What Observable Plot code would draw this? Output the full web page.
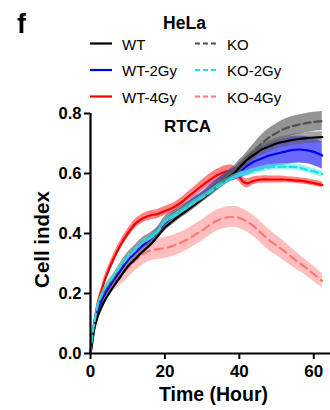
<!DOCTYPE html>
<html><head><meta charset="utf-8">
<script src="https://cdn.jsdelivr.net/npm/d3@7"></script>
<script src="https://cdn.jsdelivr.net/npm/@observablehq/plot@0.6"></script>
<style>
body{margin:0;background:#fff;}
#chart{width:330px;height:410px;overflow:hidden;background:#fff;}
svg{display:block;}
</style></head><body><div id="chart"></div>
<script>
const FONT = '"Liberation Sans", Arial, Helvetica, sans-serif';

// Time (hour)
const hours = [
  0, 0.5, 1, 2, 3, 4, 6, 8, 10, 12,
  14, 16, 18, 20, 22, 24, 26, 28, 30, 32,
  34, 36, 38, 39, 40, 41, 42, 44, 46, 48,
  50, 52, 54, 56, 58, 60, 62.3];

const seriesNames = ["WT", "WT-2Gy", "WT-4Gy", "KO", "KO-2Gy", "KO-4Gy"];

const wtMean = [
  0, .04, .08, .125, .155, .18, .22, .255, .29, .315,
  .34, .362, .39, .42, .44, .46, .477, .495, .515, .535,
  .555, .575, .595, .605, .62, .632, .645, .663, .68, .69,
  .7, .706, .711, .715, .718, .72, .721];
const wtErr = [
  0, .005, .008, .01, .01, .01, .01, .01, .01, .01,
  .01, .01, .01, .012, .012, .012, .012, .012, .012, .013,
  .013, .014, .015, .015, .015, .016, .016, .017, .018, .018,
  .018, .018, .018, .018, .018, .018, .018];

const wt2Mean = [
  0, .045, .09, .14, .175, .2, .24, .275, .31, .335,
  .36, .38, .405, .435, .455, .47, .49, .51, .525, .545,
  .565, .58, .595, .6, .61, .615, .625, .64, .65, .66,
  .666, .672, .678, .68, .678, .672, .66];
const wt2Err = [
  0, .005, .008, .01, .01, .01, .01, .01, .01, .01,
  .012, .012, .012, .012, .012, .012, .013, .013, .014, .015,
  .016, .018, .02, .022, .025, .027, .03, .035, .038, .04,
  .042, .044, .045, .045, .045, .045, .045];

const wt4Mean = [
  0, .06, .1, .17, .21, .25, .31, .36, .4, .432,
  .45, .46, .465, .475, .485, .5, .52, .54, .56, .578,
  .594, .605, .608, .6, .588, .573, .567, .576, .58, .58,
  .58, .58, .578, .576, .573, .568, .562];
const wt4Err = [
  0, .006, .01, .012, .014, .015, .015, .015, .015, .015,
  .015, .015, .015, .015, .015, .015, .016, .017, .018, .02,
  .02, .02, .02, .018, .016, .015, .015, .013, .012, .012,
  .012, .011, .01, .01, .01, .01, .01];

const koMean = [
  0, .06, .1, .16, .19, .215, .25, .29, .325, .35,
  .375, .39, .41, .445, .46, .475, .49, .505, .52, .54,
  .56, .58, .6, .61, .625, .635, .648, .675, .7, .72,
  .735, .748, .757, .763, .768, .772, .775];
const koErr = [
  0, .005, .008, .01, .01, .01, .01, .012, .012, .012,
  .012, .012, .012, .012, .013, .013, .014, .015, .015, .016,
  .017, .018, .02, .02, .021, .022, .023, .025, .028, .03,
  .031, .032, .032, .032, .032, .032, .032];

const ko2Mean = [
  0, .06, .1, .165, .195, .22, .255, .29, .32, .345,
  .37, .385, .405, .44, .455, .47, .487, .505, .52, .537,
  .555, .57, .585, .59, .595, .597, .6, .608, .615, .62,
  .622, .623, .622, .62, .613, .607, .598];
const ko2Err = [
  0, .004, .006, .008, .008, .008, .008, .008, .008, .008,
  .008, .008, .008, .008, .008, .008, .008, .008, .008, .008,
  .008, .008, .009, .009, .009, .009, .01, .01, .01, .01,
  .01, .01, .01, .01, .01, .01, .01];

const ko4Mean = [
  0, .05, .09, .15, .18, .2, .235, .26, .285, .31,
  .33, .343, .348, .352, .358, .368, .38, .395, .41, .428,
  .443, .452, .455, .455, .452, .447, .44, .423, .4, .378,
  .36, .342, .322, .303, .285, .265, .242];
const ko4Err = [
  0, .008, .012, .02, .025, .028, .03, .032, .033, .034,
  .035, .035, .035, .035, .035, .035, .035, .035, .035, .035,
  .035, .035, .035, .035, .035, .035, .035, .035, .035, .035,
  .033, .032, .03, .028, .026, .025, .024];

const yTicks = [0, 0.2, 0.4, 0.6, 0.8];
const xTicks = [0, 20, 40, 60];

// styles
const styles = {
  "WT":     {line: "#000000", band: "#5a5a5a", op: 0.55, dash: null},
  "WT-2Gy": {line: "#0000f0", band: "#2a2aff", op: 0.7, dash: null},
  "WT-4Gy": {line: "#f20000", band: "#ff1a1a", op: 0.55, dash: null},
  "KO":     {line: "#505050", band: "#5a5a5a", op: 0.65, dash: "7,4"},
  "KO-2Gy": {line: "#1ee0e0", band: "#55eeee", op: 0.6, dash: "7,4"},
  "KO-4Gy": {line: "#ff7878", band: "#ff8080", op: 0.5, dash: "8,5"}
};
const means = {"WT": wtMean, "WT-2Gy": wt2Mean, "WT-4Gy": wt4Mean, "KO": koMean, "KO-2Gy": ko2Mean, "KO-4Gy": ko4Mean};
const errs  = {"WT": wtErr, "WT-2Gy": wt2Err, "WT-4Gy": wt4Err, "KO": koErr, "KO-2Gy": ko2Err, "KO-4Gy": ko4Err};

const drawOrder = ["KO-4Gy", "WT-4Gy", "WT-2Gy", "KO", "WT", "KO-2Gy"];
const seriesMarks = [];
for (const name of drawOrder) {
  const rows = hours.map((t, i) => ({t, v: means[name][i], lo: means[name][i] - errs[name][i], hi: means[name][i] + errs[name][i]}));
  const s = styles[name];
  seriesMarks.push(Plot.areaY(rows, {x: "t", y1: "lo", y2: "hi", fill: s.band, fillOpacity: s.op, curve: "catmull-rom"}));
  seriesMarks.push(Plot.lineY(rows, {x: "t", y: "v", stroke: s.line, strokeWidth: 2.2, strokeDasharray: s.dash, curve: "catmull-rom"}));
}

// Header (title + legend)
const head = d3.create("svg").attr("width", 330).attr("height", 104)
  .style("overflow", "visible").style("font-family", FONT);
head.append("text").attr("x", 17).attr("y", 33).attr("font-size", 27).attr("font-weight", "bold").text("f");
head.append("text").attr("x", 184.5).attr("y", 28.5).attr("text-anchor", "middle")
  .attr("font-size", 17.5).attr("font-weight", "bold").text("HeLa");
const legendCols = [["WT", "WT-2Gy", "WT-4Gy"], ["KO", "KO-2Gy", "KO-4Gy"]];
const colX = [90, 195];
const rowY = [43.5, 70, 96.5];
legendCols.forEach((col, ci) => {
  col.forEach((name, ri) => {
    const s = styles[name];
    head.append("line").attr("x1", colX[ci]).attr("x2", colX[ci] + 22)
      .attr("y1", rowY[ri]).attr("y2", rowY[ri])
      .attr("stroke", s.line).attr("stroke-width", 2.2)
      .attr("stroke-dasharray", s.dash ? "5,3" : null);
    head.append("text").attr("x", colX[ci] + 32).attr("y", rowY[ri] + 6)
      .attr("font-size", 15).text(name);
  });
});
document.getElementById("chart").appendChild(head.node());

const plot = Plot.plot({
  width: 330, height: 306,
  marginTop: 9, marginBottom: 57, marginLeft: 90, marginRight: 0,
  x: {domain: [0, 64.5]},
  y: {domain: [0, 0.8]},
  style: {fontFamily: FONT, background: "white", overflow: "visible", color: "black"},
  marks: [
    ...seriesMarks,
    Plot.ruleX([0], {stroke: "black", strokeWidth: 2.2}),
    Plot.ruleY([0], {stroke: "black", strokeWidth: 2.2}),
    Plot.axisY({ticks: yTicks, tickFormat: d3.format(".1f"), tickSize: 6, tickPadding: 3,
      fontSize: 16.5, fontWeight: "bold", strokeWidth: 2, label: null}),
    Plot.axisX({ticks: xTicks, tickSize: 6, tickPadding: 5,
      fontSize: 17, fontWeight: "bold", strokeWidth: 2, label: null}),
    Plot.text(["Cell index"], {frameAnchor: "left", rotate: -90, dx: -48, dy: 6,
      fontSize: 20.5, fontWeight: "bold", textAnchor: "middle", lineAnchor: "middle"}),
    Plot.text(["Time (Hour)"], {frameAnchor: "bottom", dx: 3, dy: 41,
      fontSize: 19.5, fontWeight: "bold", textAnchor: "middle", lineAnchor: "middle"}),
    Plot.text(["RTCA"], {frameAnchor: "top", dx: -23, dy: 13.5,
      fontSize: 17, fontWeight: "bold", textAnchor: "middle", lineAnchor: "middle"})
  ]
});
document.getElementById("chart").appendChild(plot);
</script>
</body></html>
